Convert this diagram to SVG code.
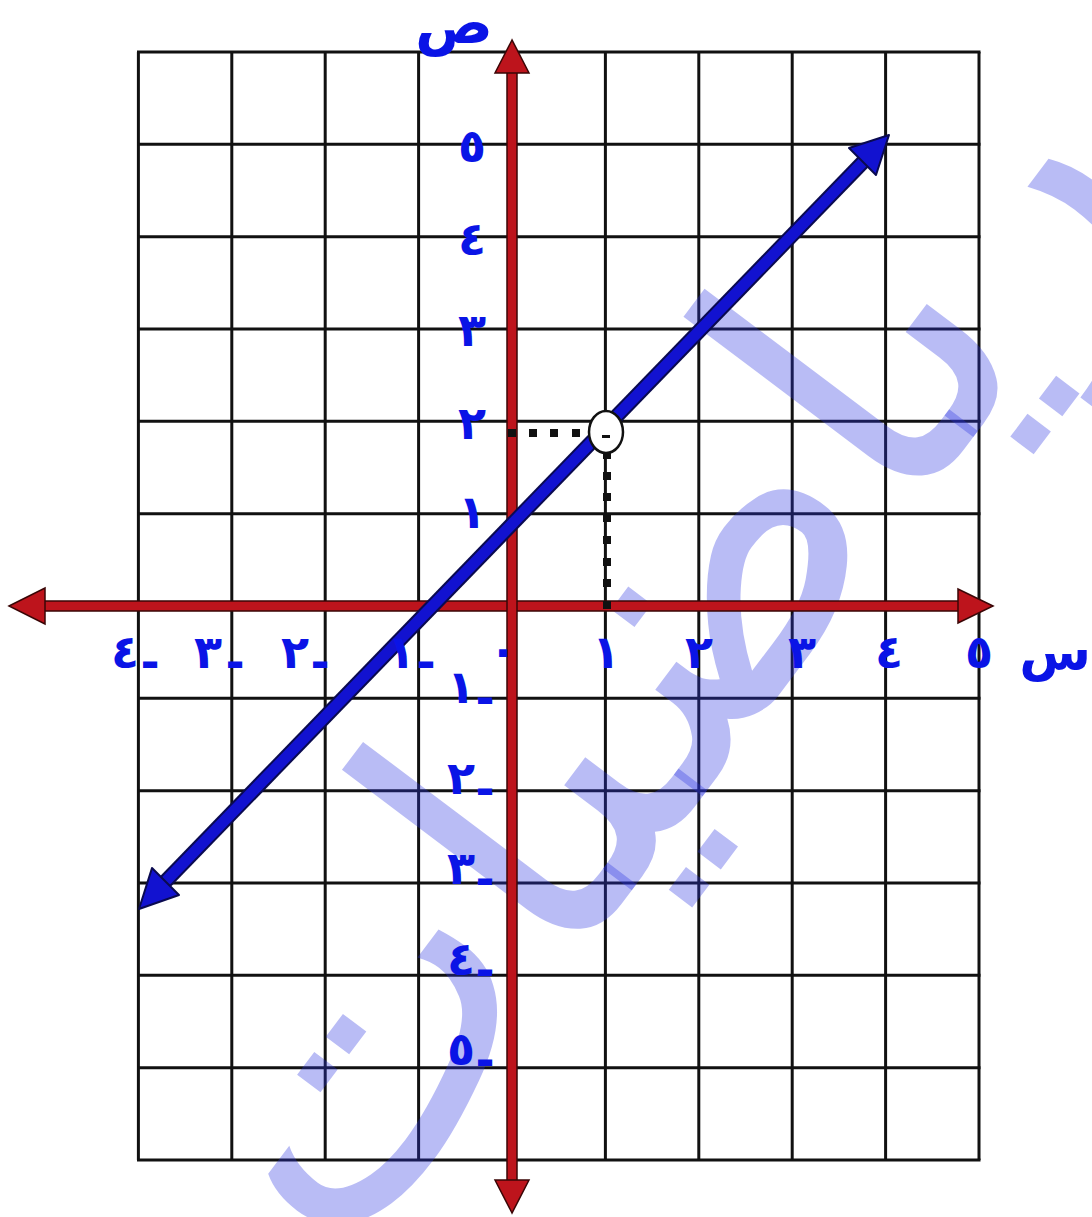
<svg xmlns="http://www.w3.org/2000/svg" width="1092" height="1217" viewBox="0 0 1092 1217">
<style>
.grid line{stroke:#111;stroke-width:3}
.lbl{font-family:"DejaVu Sans",sans-serif;font-weight:bold;fill:#0a14e6;font-size:46px;text-anchor:middle}
.axlet{font-family:"DejaVu Sans",sans-serif;font-weight:bold;fill:#0a14e6}
.axis{fill:#bd141c;stroke:#3a0606;stroke-width:1.5}
.dot{fill:#111}
.wm{font-family:"DejaVu Sans",sans-serif;font-weight:normal;fill:#2a35e0;fill-opacity:0.33}
</style>
<rect width="1092" height="1217" fill="#fff"/>
<g id="grid" class="grid">
<line x1="138.4" y1="52" x2="138.4" y2="1160"/>
<line x1="231.8" y1="52" x2="231.8" y2="1160"/>
<line x1="325.2" y1="52" x2="325.2" y2="1160"/>
<line x1="418.6" y1="52" x2="418.6" y2="1160"/>
<line x1="512" y1="52" x2="512" y2="1160"/>
<line x1="605.4" y1="52" x2="605.4" y2="1160"/>
<line x1="698.8" y1="52" x2="698.8" y2="1160"/>
<line x1="792.2" y1="52" x2="792.2" y2="1160"/>
<line x1="885.6" y1="52" x2="885.6" y2="1160"/>
<line x1="979" y1="52" x2="979" y2="1160"/>
<line x1="137" y1="52" x2="980.5" y2="52"/>
<line x1="137" y1="144.3" x2="980.5" y2="144.3"/>
<line x1="137" y1="236.7" x2="980.5" y2="236.7"/>
<line x1="137" y1="329" x2="980.5" y2="329"/>
<line x1="137" y1="421.3" x2="980.5" y2="421.3"/>
<line x1="137" y1="513.7" x2="980.5" y2="513.7"/>
<line x1="137" y1="606" x2="980.5" y2="606"/>
<line x1="137" y1="698.3" x2="980.5" y2="698.3"/>
<line x1="137" y1="790.7" x2="980.5" y2="790.7"/>
<line x1="137" y1="883" x2="980.5" y2="883"/>
<line x1="137" y1="975.3" x2="980.5" y2="975.3"/>
<line x1="137" y1="1067.7" x2="980.5" y2="1067.7"/>
<line x1="137" y1="1160" x2="980.5" y2="1160"/>
</g>
<g id="watermark">
<text class="wm" transform="translate(700 700) rotate(-53)" x="0" y="60" font-size="400" text-anchor="middle" textLength="1350" lengthAdjust="spacingAndGlyphs">رياضيات</text>
</g>
<g id="connectors">
<g id="x-axis">
<rect class="axis" x="42" y="601" width="918" height="10"/>
<polygon class="axis" points="9,606 45,588 45,624"/>
<polygon class="axis" points="993,606 958,589 958,623"/>
</g>
<g id="y-axis">
<rect class="axis" x="507" y="70" width="10" height="1112"/>
<polygon class="axis" points="512,40 495,73 529,73"/>
<polygon class="axis" points="512,1213 495,1180 529,1180"/>
</g>
<g id="guides" class="dot">
<rect x="508" y="429" width="8" height="8"/>
<rect x="529" y="429" width="8" height="8"/>
<rect x="550" y="429" width="8" height="8"/>
<rect x="572" y="429" width="8" height="8"/>
<rect x="603" y="451" width="8" height="8"/>
<rect x="603" y="472" width="8" height="8"/>
<rect x="603" y="493" width="8" height="8"/>
<rect x="603" y="514" width="8" height="8"/>
<rect x="603" y="536" width="8" height="8"/>
<rect x="603" y="558" width="8" height="8"/>
<rect x="603" y="579" width="8" height="8"/>
<rect x="603" y="601" width="8" height="8"/>
</g>
<g id="line">
<line x1="163" y1="884" x2="865" y2="160" stroke="#0a0a50" stroke-width="15"/>
<line x1="163" y1="884" x2="865" y2="160" stroke="#1212d0" stroke-width="11"/>
<polygon points="889,135 876,175 849,148" fill="#1212d0" stroke="#0a0a50" stroke-width="2" stroke-linejoin="round"/>
<polygon points="139,909 179,895 152,868" fill="#1212d0" stroke="#0a0a50" stroke-width="2" stroke-linejoin="round"/>
</g>
</g>
<g id="point">
<ellipse cx="606" cy="432" rx="17" ry="21" fill="#fff" stroke="#111" stroke-width="2.5"/>
<rect x="602" y="435" width="8" height="3" fill="#111"/>
</g>
<g id="x-labels" class="lbl">
<text y="668"><tspan x="125">٤</tspan><tspan x="150" dy="10">-</tspan></text>
<text y="668"><tspan x="208">٣</tspan><tspan x="235" dy="10">-</tspan></text>
<text y="668"><tspan x="295">٢</tspan><tspan x="320" dy="10">-</tspan></text>
<text y="668"><tspan x="401">١</tspan><tspan x="426" dy="10">-</tspan></text>
<text x="503" y="666">٠</text>
<text x="606" y="668">١</text>
<text x="699" y="668">٢</text>
<text x="802" y="668">٣</text>
<text x="889" y="668">٤</text>
<text x="979" y="668">٥</text>
</g>
<g id="y-labels" class="lbl">
<text x="472" y="162">٥</text>
<text x="472" y="255">٤</text>
<text x="472" y="346">٣</text>
<text x="472" y="439">٢</text>
<text x="472" y="528">١</text>
<text y="703"><tspan x="461">١</tspan><tspan x="485" dy="11">-</tspan></text>
<text y="794"><tspan x="461">٢</tspan><tspan x="485" dy="11">-</tspan></text>
<text y="884"><tspan x="461">٣</tspan><tspan x="485" dy="11">-</tspan></text>
<text y="975"><tspan x="461">٤</tspan><tspan x="485" dy="11">-</tspan></text>
<text y="1065"><tspan x="461">٥</tspan><tspan x="485" dy="11">-</tspan></text>
</g>
<g id="axis-names" class="axlet">
<text x="454" y="43" font-size="58" text-anchor="middle">ص</text>
<text x="1091" y="670" font-size="52" text-anchor="end">س</text>
</g>
</svg>
